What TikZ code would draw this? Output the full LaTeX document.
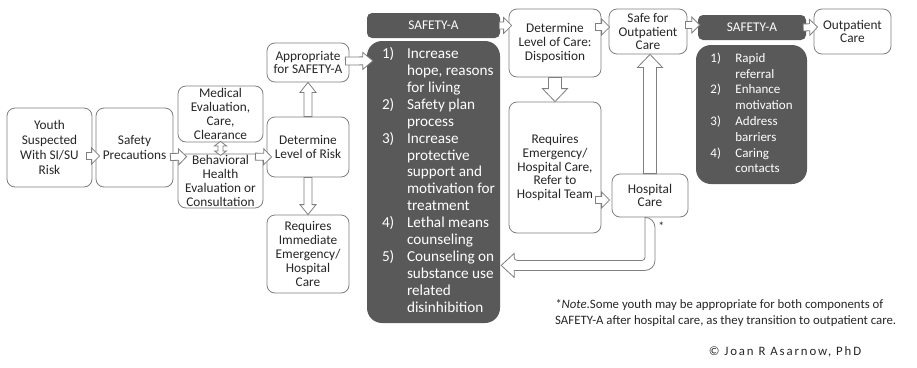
\documentclass[tikz,border=0pt]{standalone}
\usepackage{fontspec}
\setmainfont{Carlito}
\usetikzlibrary{calc}
\definecolor{boxline}{RGB}{127,127,127}
\definecolor{darkfill}{RGB}{89,89,89}
\definecolor{txt}{RGB}{38,38,38}

% block arrow: from, to, shaft half width, head half width, head length
\newcommand\fatarrow[5]{%
	\coordinate (fa-s) at (#1);
	\coordinate (fa-t) at (#2);
	\coordinate (fa-h) at ($(fa-t)!#5!(fa-s)$);
	\draw[arrowbox] ($(fa-s)!#3!90:(fa-t)$) -- ($(fa-h)!#3!90:(fa-t)$) -- ($(fa-h)!#4!90:(fa-t)$) -- (fa-t) -- ($(fa-h)!#4!-90:(fa-t)$) -- ($(fa-h)!#3!-90:(fa-t)$) -- ($(fa-s)!#3!-90:(fa-t)$) -- cycle;
}

\begin{document}
\begin{tikzpicture}[x=1pt, y=-1pt,
		box/.style={draw=boxline, line width=0.8pt, fill=white, rounded corners=8pt, align=center, inner sep=1pt, text=txt, font=\fontsize{13.3}{13.8}\selectfont},
		header/.style={fill=darkfill, rounded corners=5pt, inner sep=0pt, text=white, font=\fontsize{13.3}{14}\selectfont},
		steps/.style={fill=darkfill, rounded corners=15pt, inner sep=0pt, text=white},
		arrowbox/.style={draw=boxline, line width=0.8pt, fill=white, line join=miter}]
	\useasboundingbox (0,0) rectangle (917,367);

	% first column of boxes
	\node[box, minimum width=85pt, minimum height=79pt, font=\fontsize{13.3}{15}\selectfont] (youth) at (49.5,147.5) {Youth\\Suspected\\With SI/SU\\Risk};
	\node[box, minimum width=77pt, minimum height=79pt, font=\fontsize{13.3}{15}\selectfont] (precaution) at (134.5,147.5) {Safety\\Precautions};
	\node[box, minimum width=85pt, minimum height=56pt] (medical) at (220.5,114) {Medical\\Evaluation,\\Care,\\Clearance};
	\node[box, minimum width=85pt, minimum height=54pt] (behav) at (220.5,181) {Behavioral\\Health\\Evaluation or\\Consultation};
	\node[box, minimum width=82pt, minimum height=60pt] (risk) at (308,147) {Determine\\Level of Risk};
	\node[box, minimum width=82pt, minimum height=39pt] (approp) at (308,62.5) {Appropriate\\for SAFETY-A};
	\node[box, minimum width=82pt, minimum height=78pt] (immed) at (308,254) {Requires\\Immediate\\Emergency/\\Hospital\\Care};

	% SAFETY-A, first part
	\node[header, minimum width=133pt, minimum height=25pt] (hdrA) at (433.5,25.5) {SAFETY-A};
	\node[steps, minimum width=133pt, minimum height=282pt, font=\fontsize{15.2}{16.9}\selectfont] (listA) at (433.5,182) {%
		\hspace*{10pt}\begin{tabular}{@{}p{25pt}@{}l@{}}
			1) & Increase\\
			   & hope, reasons\\
			   & for living\\
			2) & Safety plan\\
			   & process\\
			3) & Increase\\
			   & protective\\
			   & support and\\
			   & motivation for\\
			   & treatment\\
			4) & Lethal means\\
			   & counseling\\
			5) & Counseling on\\
			   & substance use\\
			   & related\\
			   & disinhibition
		\end{tabular}};

	% disposition
	\node[box, minimum width=92pt, minimum height=68pt] (care) at (555,43) {Determine\\Level of Care:\\Disposition};
	\node[box, minimum width=92pt, minimum height=131pt] (emerg) at (555,167.5) {Requires\\Emergency/\\Hospital Care,\\Refer to\\Hospital Team};
	\node[box, minimum width=76pt, minimum height=43pt] (hosp) at (650,195.5) {Hospital\\Care};
	\node[box, minimum width=78pt, minimum height=45pt] (safe) at (648,31.5) {Safe for\\Outpatient\\Care};

	% SAFETY-A, second part
	\node[header, minimum width=108pt, minimum height=25pt] (hdrB) at (752,27.5) {SAFETY-A};
	\node[steps, minimum width=111pt, minimum height=139pt, font=\fontsize{13}{15.8}\selectfont] (listB) at (751.5,114.5) {%
		\begin{tabular}{@{}p{25pt}@{}l@{}}
			1) & Rapid\\
			   & referral\\
			2) & Enhance\\
			   & motivation\\
			3) & Address\\
			   & barriers\\
			4) & Caring\\
			   & contacts
		\end{tabular}};
	\node[box, minimum width=77pt, minimum height=45pt] (outp) at (852.5,31.5) {Outpatient\\Care};

	% arrows
	\fatarrow{$(youth.east)+(-6,8.5)$}{$(precaution.west)+(4,8.5)$}{3.5pt}{8pt}{8pt}
	\fatarrow{$(precaution.east)+(-3,9.5)$}{$(behav.north west)+(9,3)$}{3.5pt}{8pt}{8pt}
	\fatarrow{$(behav.north east)+(-8,3)$}{$(risk.west)+(5,10)$}{3.5pt}{8pt}{8pt}
	\fatarrow{risk.north}{risk.north |- approp.south}{4pt}{8pt}{10pt}
	\fatarrow{risk.south}{risk.south |- immed.north}{4pt}{8pt}{10pt}
	\fatarrow{$(approp.east)+(-4,-1.5)$}{$(listA.north west)+(6,20)$}{4pt}{8.5pt}{10pt}
	\fatarrow{$(hdrA.east)+(-1,0)$}{$(care.west |- hdrA.east)+(3,0)$}{3.5pt}{8pt}{8pt}
	\fatarrow{$(care.east)+(-6,-16)$}{$(safe.west)+(1,-4.5)$}{3.5pt}{8pt}{8pt}
	\fatarrow{care.south}{emerg.north}{6.5pt}{12.5pt}{13pt}
	\fatarrow{$(emerg.east)+(-6,32.5)$}{$(hosp.west)+(-2,4.5)$}{3.5pt}{8pt}{8pt}
	\fatarrow{hosp.north}{hosp.north |- safe.south}{6.5pt}{12.5pt}{13pt}
	\fatarrow{$(safe.east)+(-2,-6.5)$}{$(hdrB.west)+(2,-2.5)$}{3.5pt}{8pt}{8pt}
	\fatarrow{$(hdrB.east)+(-3,0)$}{$(outp.west)+(4,-4.5)$}{3.5pt}{8pt}{8pt}

	% double arrow between the two evaluations
	\draw[arrowbox] ($(medical.south)+(0,-1)$) -- ++(6,4.5) -- ++(-3.5,0) -- ++(0,5) -- ++(3.5,0) -- ++(-6,4.5) -- ++(-6,-4.5) -- ++(3.5,0) -- ++(0,-5) -- ++(-3.5,0) -- cycle;

	% back from hospital care to SAFETY-A
	\coordinate (uturn) at ($(hosp.south)+(0,48)$);
	\coordinate (utip) at (listA.east |- uturn);
	\draw[arrowbox] ($(hosp.south)+(-5,0)$) [rounded corners=3pt] |- ($(utip)+(14,-5)$) [sharp corners] -- ++(0,-7) -- ($(utip)+(1,0)$) -- ++(13,12) -- ++(0,-7) [rounded corners=10pt] -| ($(hosp.south)+(5,0)$) [sharp corners] -- cycle;
	\node[text=txt, font=\fontsize{12}{12}\selectfont] (star) at ($(hosp.south east)+(-27,9)$) {*};

	% note and credit
	\node[anchor=west, align=left, inner sep=0pt, text=txt, font=\fontsize{12.8}{16}\selectfont] (note) at (555,313) {\textit{*Note}.Some youth may be appropriate for both components of\\SAFETY-A after hospital care, as they transition to outpatient care.};
	\node[inner sep=0pt, text=txt, font=\fontsize{12.8}{15}\selectfont\addfontfeature{LetterSpace=15}] (credit) at (785,352) {© Joan R Asarnow, PhD};
\end{tikzpicture}
\end{document}
